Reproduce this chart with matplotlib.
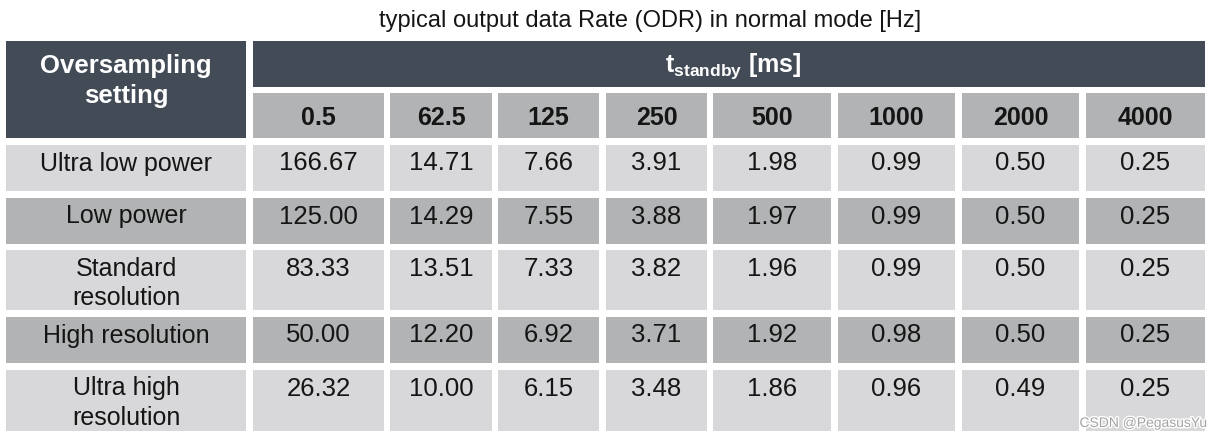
import matplotlib.pyplot as plt
from matplotlib.patches import Rectangle
import matplotlib.patheffects as pe

plt.rcParams['font.family'] = ['Liberation Sans', 'DejaVu Sans']
plt.rcParams['mathtext.fontset'] = 'custom'
plt.rcParams['mathtext.rm'] = 'Liberation Sans'
plt.rcParams['mathtext.bf'] = 'Liberation Sans:bold'

# data
title = 'typical output data Rate (ODR) in normal mode [Hz]'
corner_label = 'Oversampling\nsetting'
standby_ms = ['0.5', '62.5', '125', '250', '500', '1000', '2000', '4000']
settings = ['Ultra low power', 'Low power', 'Standard\nresolution',
            'High resolution', 'Ultra high\nresolution']
odr = [
    ['166.67', '14.71', '7.66', '3.91', '1.98', '0.99', '0.50', '0.25'],
    ['125.00', '14.29', '7.55', '3.88', '1.97', '0.99', '0.50', '0.25'],
    ['83.33', '13.51', '7.33', '3.82', '1.96', '0.99', '0.50', '0.25'],
    ['50.00', '12.20', '6.92', '3.71', '1.92', '0.98', '0.50', '0.25'],
    ['26.32', '10.00', '6.15', '3.48', '1.86', '0.96', '0.49', '0.25'],
]

# layout (pixels)
W, H = 1222, 442
lab_x = (6, 246)
col_x = [(253, 384), (390, 492), (498, 599), (606, 707),
         (713, 831), (838, 955), (962, 1079), (1086, 1205)]
row_y = [(145, 191), (198, 244), (250, 310), (317, 363), (370, 431)]
head_top, band_bot, sub_top, sub_bot = 41, 86.5, 93, 138

DARK = '#434b57'
GREY = '#b2b3b4'
LIGHT = '#d8d8da'
INK = '#151515'


def main():
    fig = plt.figure(figsize=(W / 100, H / 100), dpi=100)
    ax = fig.add_axes([0, 0, 1, 1])
    ax.set_xlim(0, W)
    ax.set_ylim(H, 0)
    ax.axis('off')

    def box(x0, x1, y0, y1, color):
        ax.add_patch(Rectangle((x0, y0), x1 - x0, y1 - y0, facecolor=color,
                               edgecolor='none'))

    ax.text(650, 21, title, fontsize=17, ha='center', va='center', color=INK)

    # header
    box(lab_x[0], lab_x[1], head_top, sub_bot, DARK)
    ax.text(sum(lab_x) / 2, 81, corner_label, fontsize=18.5, fontweight='bold',
            color='white', ha='center', va='center', linespacing=1.3)
    box(col_x[0][0], col_x[-1][1], head_top, band_bot, DARK)
    ax.text(733, 66, r'$\mathbf{t}_{\mathbf{standby}}$ [ms]', fontsize=18,
            fontweight='bold', color='white', ha='center', va='center')

    for (x0, x1), lab in zip(col_x, standby_ms):
        box(x0, x1, sub_top, sub_bot, GREY)
        ax.text((x0 + x1) / 2, (sub_top + sub_bot) / 2 + 2.5, lab, fontsize=18,
                fontweight='bold', color=INK, ha='center', va='center')

    # body
    for i, ((y0, y1), name) in enumerate(zip(row_y, settings)):
        color = LIGHT if i % 2 == 0 else GREY
        box(lab_x[0], lab_x[1], y0, y1, color)
        ax.text(sum(lab_x) / 2, y0 + 6.5, name, fontsize=18, color=INK,
                ha='center', va='top', linespacing=1.3)
        for (x0, x1), val in zip(col_x, odr[i]):
            box(x0, x1, y0, y1, color)
            ax.text((x0 + x1) / 2, y0 + 6.5, val, fontsize=18.5, color=INK,
                    ha='center', va='top')

    ax.text(1207, 423, 'CSDN @PegasusYu', fontsize=10, color='#a3a3a3',
            ha='right', va='center',
            path_effects=[pe.withStroke(linewidth=2, foreground='white')])

    fig.savefig('out.png', dpi=100)


if __name__ == '__main__':
    main()
